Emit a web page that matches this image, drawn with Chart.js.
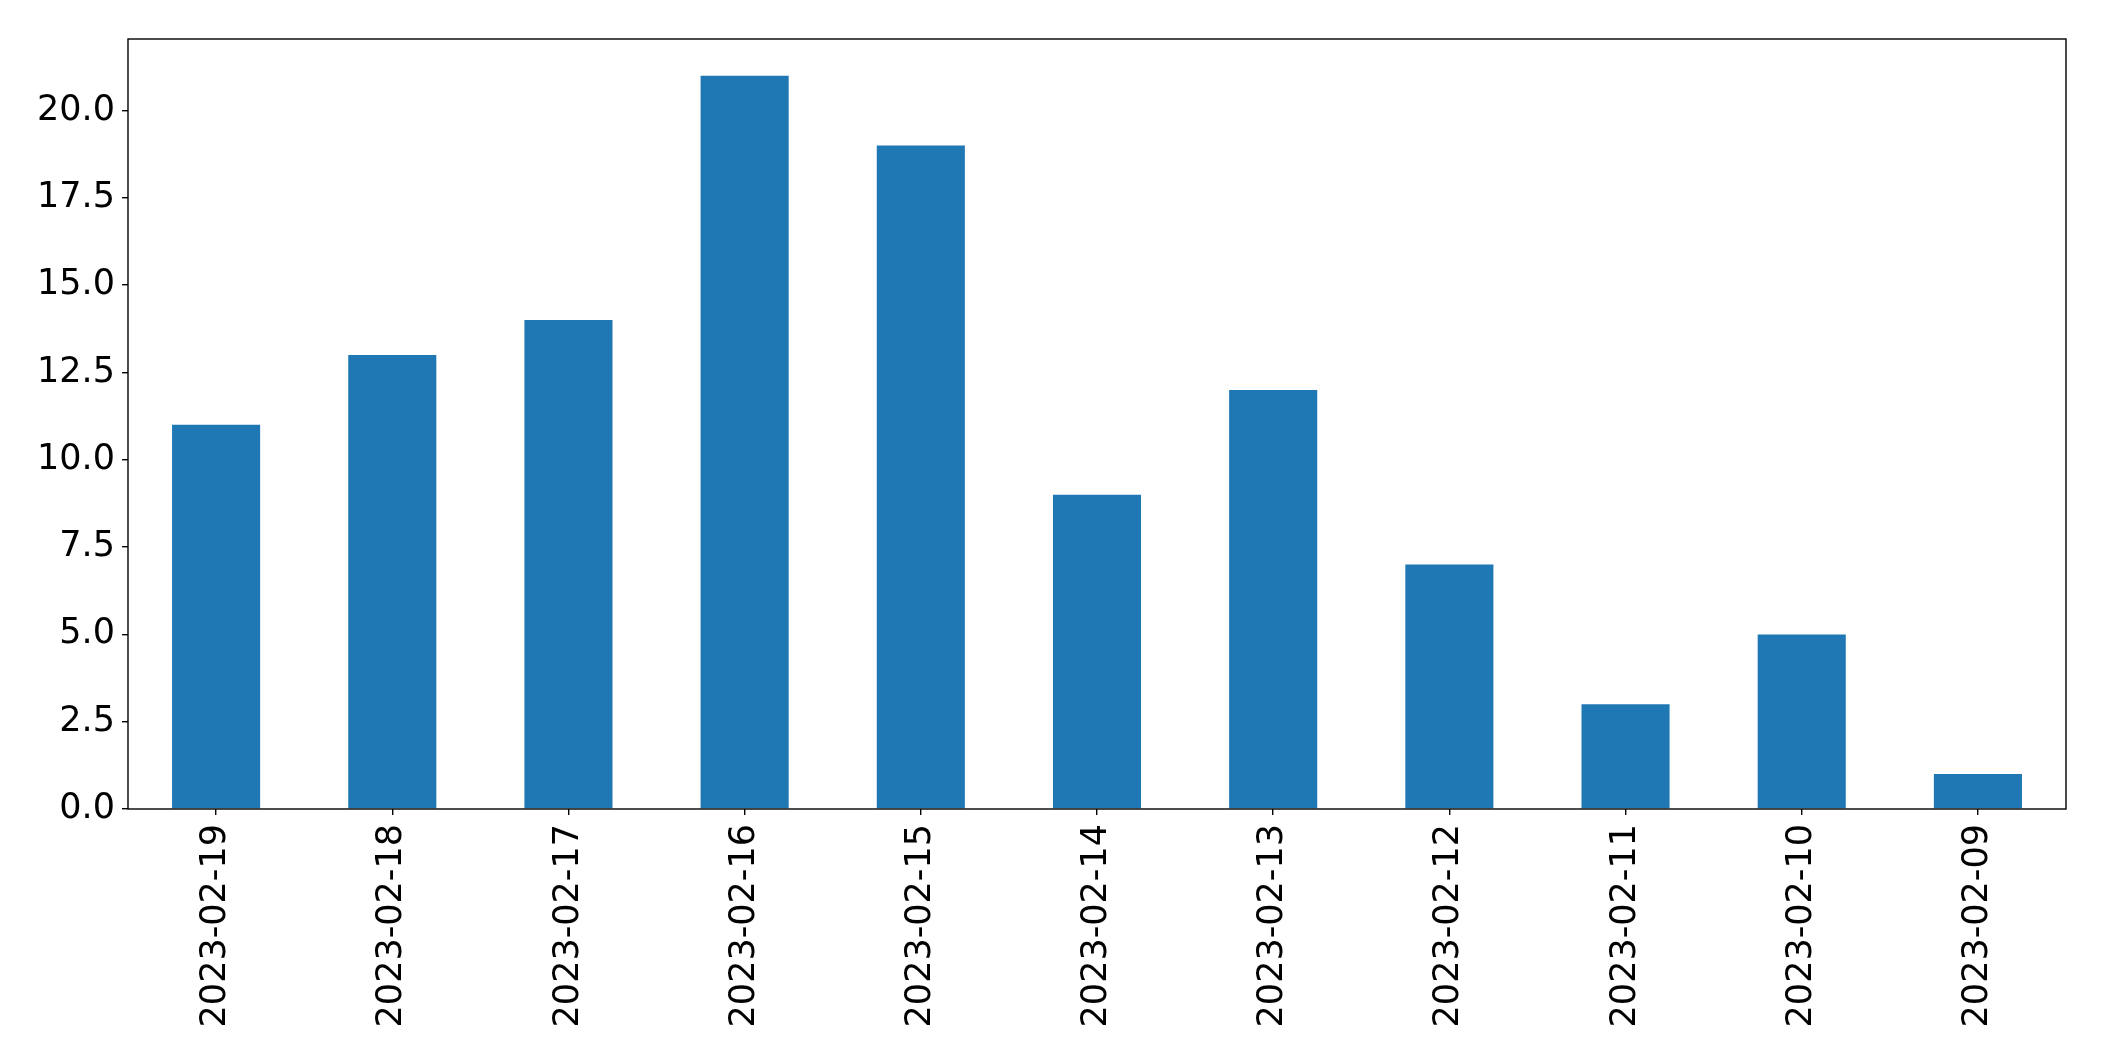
<!DOCTYPE html>
<html>
<head>
<meta charset="utf-8">
<script src="https://cdn.jsdelivr.net/npm/chart.js@4"></script>
<style>
html,body{margin:0;padding:0;background:#fff;}
#wrap{width:2104px;height:1061px;}
</style>
</head>
<body>
<div id="wrap"><canvas id="c" width="2104" height="1061"></canvas></div>
<script>
const categories = ["2023-02-19","2023-02-18","2023-02-17","2023-02-16","2023-02-15","2023-02-14","2023-02-13","2023-02-12","2023-02-11","2023-02-10","2023-02-09"];
const counts = [11,13,14,21,19,9,12,7,3,5,1];
const yTicks = [0,2.5,5,7.5,10,12.5,15,17.5,20];

const frame = {
  id:'frame',
  afterDatasetsDraw(chart){
    const a = chart.chartArea, ctx = chart.ctx;
    ctx.save();
    ctx.strokeStyle = '#000';
    ctx.lineWidth = 1.4;
    ctx.strokeRect(a.left, a.top, a.right - a.left, a.bottom - a.top);
    ctx.restore();
  }
};

Chart.defaults.font.family = "'DejaVu Sans', sans-serif";
Chart.defaults.color = '#000';

new Chart(document.getElementById('c'), {
  type:'bar',
  data:{
    labels: categories,
    datasets:[{data: counts, backgroundColor:'#1f77b4', borderWidth:0, barPercentage:0.5, categoryPercentage:1.0}]
  },
  options:{
    responsive:false,
    animation:false,
    devicePixelRatio:1,
    layout:{padding:{top:39, right:38, left:0, bottom:0}},
    plugins:{legend:{display:false}, tooltip:{enabled:false}},
    scales:{
      x:{
        offset:true,
        grid:{display:true, offset:false, drawOnChartArea:false, drawTicks:true, tickLength:6, color:'#000', lineWidth:1.4},
        border:{display:false},
        ticks:{font:{size:35}, color:'#000', maxRotation:90, minRotation:90, padding:9, autoSkip:false},
        afterFit(s){ s.height = 252; }
      },
      y:{
        min:0, max:22.05,
        afterBuildTicks(s){ s.ticks = yTicks.map(v=>({value:v})); },
        grid:{display:true, drawOnChartArea:false, drawTicks:true, tickLength:6, color:'#000', lineWidth:1.4},
        border:{display:false},
        ticks:{font:{size:35}, color:'#000', padding:7, callback:(v)=>Number(v).toFixed(1)},
        afterFit(s){ s.width = 128; }
      }
    }
  },
  plugins:[frame]
});
</script>
</body>
</html>
